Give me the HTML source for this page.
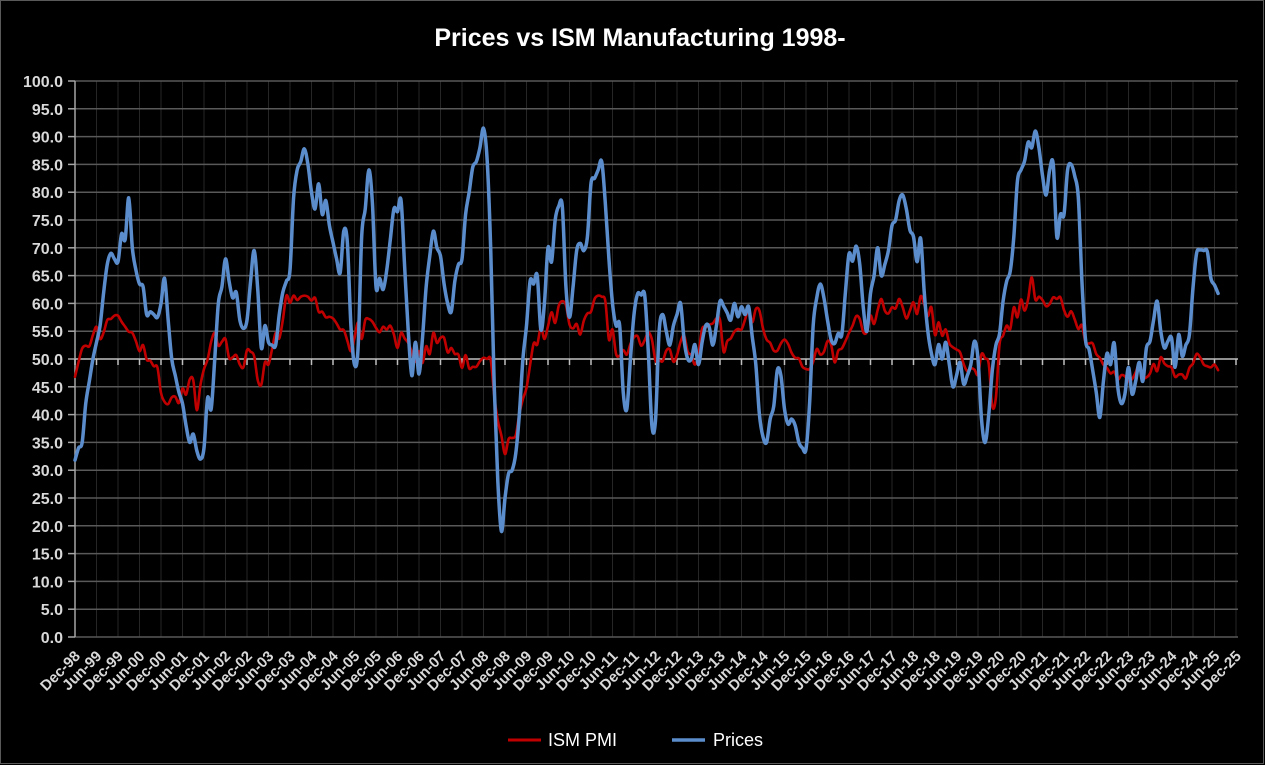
<!DOCTYPE html>
<html><head><meta charset="utf-8"><style>
html,body{margin:0;padding:0;background:#000;}
svg{display:block;font-family:"Liberation Sans",sans-serif;}
</style></head><body>
<svg id="chart" width="1265" height="765" viewBox="0 0 1265 765">
<rect x="0.5" y="0.5" width="1263" height="763" fill="#000" stroke="#595959"/>
<text x="640" y="46" fill="#fff" font-size="25" font-weight="bold" text-anchor="middle">Prices vs ISM Manufacturing 1998-</text>
<g id="grid"></g><g id="axes"></g><g id="series"></g>
<g>
<line x1="508" y1="740" x2="541" y2="740" stroke="#C00000" stroke-width="3"/>
<text x="548" y="746" fill="#fff" font-size="18">ISM PMI</text>
<line x1="672" y1="740" x2="705" y2="740" stroke="#5B8DCC" stroke-width="3.5"/>
<text x="713" y="746" fill="#fff" font-size="18">Prices</text>
</g>
</svg>
<script>
const yTicks=[0,5,10,15,20,25,30,35,40,45,50,55,60,65,70,75,80,85,90,95,100];
const monthNames=["Jan","Feb","Mar","Apr","May","Jun","Jul","Aug","Sep","Oct","Nov","Dec"];
const ismPMI=[46.8,
49.5,51.9,52.4,52.3,54.3,55.8,53.6,54.8,57.0,57.2,57.8,57.8,
56.7,55.8,54.9,54.7,53.2,51.4,52.5,49.9,49.7,48.7,48.5,43.9,
42.3,41.9,43.1,43.2,42.1,44.7,43.6,46.3,46.2,40.8,45.3,48.2,
49.9,53.1,54.7,52.4,53.1,53.6,50.2,50.3,50.7,49.0,48.5,51.6,
51.3,50.5,46.2,45.4,49.4,49.0,51.8,54.7,53.7,57.0,61.4,60.1,
61.4,60.6,61.2,61.4,61.2,60.5,61.0,58.5,58.5,57.5,57.6,57.3,
56.4,55.3,55.2,53.3,51.4,53.8,56.6,53.6,57.0,57.2,56.7,55.6,
54.8,55.8,55.3,56.0,54.4,52.0,54.7,53.7,52.9,51.2,49.5,51.4,
49.3,52.3,50.9,54.7,52.9,53.8,53.8,51.2,52.0,50.9,50.8,48.4,
50.7,48.3,48.6,48.6,49.6,50.2,50.0,49.9,43.4,38.9,36.2,32.9,
35.6,35.8,36.3,40.1,42.8,44.8,48.9,52.8,52.6,55.7,53.6,55.9,
58.4,56.5,59.6,60.4,59.7,56.2,55.5,56.3,54.4,56.9,58.2,58.5,
60.8,61.4,61.2,60.4,53.5,55.3,50.9,50.6,51.6,50.8,52.7,53.9,
54.1,52.4,53.4,54.8,53.5,49.7,49.8,49.6,51.5,51.7,49.5,50.7,
53.1,54.2,51.3,50.7,49.0,50.9,55.4,55.7,56.2,56.4,57.3,57.0,
51.3,53.2,53.7,54.9,55.4,55.3,57.1,59.0,56.6,59.0,58.7,55.5,
53.5,52.9,51.5,51.5,52.8,53.5,52.7,51.1,50.2,50.1,48.6,48.2,
48.2,49.5,51.8,50.8,51.3,53.2,52.6,49.4,51.5,51.9,53.2,54.7,
56.0,57.7,57.2,54.8,54.9,57.8,56.3,58.8,60.8,58.7,58.2,59.3,
59.1,60.8,59.3,57.3,58.7,60.2,58.1,61.3,59.8,57.7,59.3,54.3,
56.6,54.2,55.3,52.8,52.1,51.7,51.2,49.1,47.8,48.3,48.1,47.2,
50.9,50.1,49.1,41.5,43.1,52.6,54.2,56.0,55.4,59.3,57.5,60.7,
58.7,60.8,64.7,60.7,61.2,60.6,59.5,59.9,61.1,60.8,61.1,58.8,
57.6,58.6,57.1,55.4,56.1,53.0,52.8,52.8,50.9,50.2,49.0,48.4,
47.4,47.7,46.3,47.1,46.9,46.0,46.4,47.6,49.0,46.7,46.7,47.4,
49.1,47.8,50.3,49.2,48.7,48.5,46.8,47.2,47.2,46.5,48.4,49.2,
50.9,50.3,49.0,48.7,48.5,49.0,48.0];
const prices=[31.8,34,35,42,46,50,53,56,62,67,69,68,
67.5,72.5,71.5,79,70,66,63.5,63,58,58.5,58,57.5,
60,64.5,57,50,47,44,42,38,35,36.5,33.5,32,
34,43,41,50,60,63,68,64,61,62,57,55.5,
57,64,69.5,62.5,52,56,53,52.5,52.5,58,62,64,
66,79,84,85.5,87.8,85,80,77,81.5,76,78.5,74,
71,68,65.5,73,71,56,49,52,72,77,84,78,
63,64.5,62.5,66,71.5,77,76.5,78.5,66.5,55,47,53,
47.3,54,63,68.5,73,70,68.5,63.5,60,58.5,64,67,
68,76,80,84.5,85.5,88,91.5,86,70,45,28,19,
25,29.4,30,33,40,50,56,64,63.5,65,55.3,60,
70,67.5,75,77.5,77.4,63,57.5,63,69.5,70.8,69.5,72,
81.6,82.5,84,85.5,78,68,60,56,56,44,41,50,
58,61.7,61.5,61.4,51.2,38,39,54.8,58,55,52.5,56,
58,60,53.3,50,50,52.6,49,53,56,55.7,52.5,56,
60.4,59.5,58.3,57,60,57.6,59.4,58,59.4,54,49,40,
36,35,39.2,41.5,48,47,41,38.3,39.2,38,35,34,
33.8,42,56,61,63.5,61,57,53.5,52.8,54.6,54.4,62,
68.9,67.6,70.3,67,59.2,55,61.8,65,70,65,67,69.5,
74,75,78.5,79.5,77,73.2,72,67.5,71.7,62,55,51,
49,52.6,50,53,49,45,47,49.4,45.5,47,49,53.2,
50,39,35,40,48,52.5,54.5,60.4,64,65.8,72,82,
84,85.6,89,88,91,88,83,79.5,84,85,72,76,
76,84,85,82.9,79,64,53.5,51.7,48,44,39.5,46,
51,49,52.9,45,42,43.7,48.5,43.7,46,49.4,46,52,
53.2,57,60.4,55,52,53.2,53.8,48.5,54.4,50.5,52.5,54.4,
62.8,69,69.6,69.5,69.3,64.5,63.3,61.8];

const NS="http://www.w3.org/2000/svg";
const X0=75,X1=1236,Y0=637,Y1=81,NMONTHS=324;
function xScale(i){return X0+(X1-X0)*i/NMONTHS;}
function yScale(v){return Y0-(Y0-Y1)*v/100;}
function mk(tag,attrs,parent){const e=document.createElementNS(NS,tag);for(const k in attrs)e.setAttribute(k,attrs[k]);parent.appendChild(e);return e;}
const grid=document.getElementById('grid'),axes=document.getElementById('axes'),series=document.getElementById('series');
// vertical gridlines every 6 months
for(let i=0;i<=NMONTHS;i+=6){
  const l=mk('line',{x1:xScale(i),x2:xScale(i),y1:Y1,y2:Y0,stroke:'#262626','stroke-width':1},grid);
  
  
}
yTicks.forEach(v=>{
  const y=yScale(v);
  const l=mk('line',{x1:X0,x2:1238,y1:y,y2:y,stroke:v===50?'#BFBFBF':'#595959','stroke-width':v===50?1.5:1.5},grid);
  
  
  const t=mk('line',{x1:X0-7,x2:X0,y1:y,y2:y,stroke:'#A6A6A6','stroke-width':1.5},axes);
  
  
  const tx=mk('text',{x:X0-12,y:y+6,fill:'#D9D9D9','font-size':16,'font-weight':'bold','text-anchor':'end'},axes);
  tx.textContent=v.toFixed(1);
  
  
});
const ya=mk('line',{x1:X0,x2:X0,y1:Y1,y2:Y0,stroke:'#A6A6A6','stroke-width':1.5},axes);


for(let i=0;i<=NMONTHS;i+=6){
  const x=xScale(i);
  const t=mk('line',{x1:x,x2:x,y1:yScale(50),y2:yScale(50)+6,stroke:'#BFBFBF','stroke-width':1.5},axes);
  
  
  const mIdx=(11+i)%12, yr=(98+Math.floor((11+i)/12))%100;
  const tx=mk('text',{x:0,y:0,fill:'#D9D9D9','font-size':15,'font-weight':'bold','text-anchor':'end',transform:`translate(${x+6},${Y0+20}) rotate(-45)`},axes);
  tx.textContent=monthNames[mIdx]+'-'+String(yr).padStart(2,'0');
  
  
}
function smoothPath(vals){
  const p=vals.map((v,i)=>[xScale(i),yScale(v)]);
  let d=`M${p[0][0].toFixed(2)},${p[0][1].toFixed(2)}`;
  for(let i=0;i<p.length-1;i++){
    const a=p[Math.max(i-1,0)],b=p[i],c=p[i+1],e=p[Math.min(i+2,p.length-1)];
    const t=1/6;
    d+=` C${(b[0]+(c[0]-a[0])*t).toFixed(2)},${(b[1]+(c[1]-a[1])*t).toFixed(2)} ${(c[0]-(e[0]-b[0])*t).toFixed(2)},${(c[1]-(e[1]-b[1])*t).toFixed(2)} ${c[0].toFixed(2)},${c[1].toFixed(2)}`;
  }
  return d;
}
const ism=mk('path',{d:smoothPath(ismPMI),fill:'none',stroke:'#C00000','stroke-width':2.6,'stroke-linejoin':'round','stroke-linecap':'round'},series);


const pr=mk('path',{d:smoothPath(prices),fill:'none',stroke:'#5B8DCC','stroke-width':3.5,'stroke-linejoin':'round','stroke-linecap':'round'},series);


</script>
</body></html>
